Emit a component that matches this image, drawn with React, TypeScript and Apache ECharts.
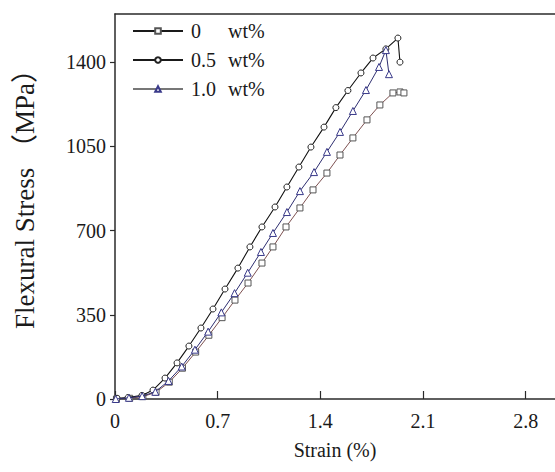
import React, { useEffect, useRef } from "react";
import * as echarts from "echarts";

const seriesNames = ["0", "0.5", "1.0"];
const unitLabel = "wt%";

const strain0: number[] = [0.01, 0.1, 0.19, 0.28, 0.37, 0.46, 0.55, 0.64, 0.73, 0.818, 0.907, 1.002, 1.077, 1.166, 1.261, 1.35, 1.445, 1.534, 1.622, 1.718, 1.806, 1.895, 1.943, 1.97];
const stress0: number[] = [0, 3, 10, 28, 70, 128, 195, 265, 338, 411, 482, 565, 632, 715, 794, 869, 939, 1014, 1085, 1160, 1222, 1272, 1276, 1272];

const strain05: number[] = [0.014, 0.089, 0.184, 0.259, 0.341, 0.423, 0.504, 0.586, 0.668, 0.75, 0.838, 0.92, 1.002, 1.091, 1.172, 1.254, 1.336, 1.425, 1.506, 1.588, 1.677, 1.759, 1.847, 1.929, 1.943];
const stress05: number[] = [3, 6, 15, 37, 87, 150, 220, 295, 374, 457, 544, 632, 715, 798, 881, 964, 1047, 1130, 1211, 1282, 1355, 1417, 1455, 1500, 1400];

const strain10: number[] = [0.005, 0.095, 0.185, 0.275, 0.365, 0.455, 0.545, 0.635, 0.725, 0.815, 0.905, 0.995, 1.077, 1.172, 1.261, 1.357, 1.445, 1.534, 1.622, 1.711, 1.8, 1.847, 1.868];
const stress10: number[] = [0, 5, 12, 30, 75, 135, 205, 280, 360, 440, 525, 611, 690, 777, 864, 943, 1027, 1110, 1197, 1284, 1380, 1450, 1350];

const xTicks: number[] = [0, 0.7, 1.4, 2.1, 2.8];
const yTicks: number[] = [0, 350, 700, 1050, 1400];

const FONT = "'Liberation Serif', 'Times New Roman', 'Noto Sans CJK SC', serif";

function zip(xs: number[], ys: number[]) {
  return xs.map((x, i) => [x, ys[i]]);
}

export default function App() {
  const ref = useRef<HTMLDivElement>(null);
  useEffect(() => {
    if (!ref.current) return;
    const chart = echarts.init(ref.current, null, { renderer: "svg" });
    const axisColor = "#2a2a2a";
    chart.setOption({
      animation: false,
      backgroundColor: "#ffffff",
      grid: { left: 115, right: 0, top: 14, bottom: 73 },
      legend: {
        orient: "vertical",
        left: 127,
        top: 16,
        itemWidth: 50,
        itemHeight: 7,
        itemGap: 9,
        data: [
          { name: seriesNames[0], lineStyle: { color: "#1a1a1a" } },
          { name: seriesNames[1], lineStyle: { color: "#1a1a1a" } },
          { name: seriesNames[2], lineStyle: { color: "#777777" } },
        ],
        formatter: (name: string) => `{a|${name}}{b|${unitLabel}}`,
        textStyle: {
          fontFamily: FONT,
          fontSize: 20,
          color: "#1a1a1a",
          lineHeight: 20,
          rich: {
            a: { width: 37, fontFamily: FONT, fontSize: 20, color: "#1a1a1a", padding: [0, 0, 0, 3] },
            b: { fontFamily: FONT, fontSize: 20, color: "#1a1a1a" },
          },
        },
      },
      xAxis: [
        {
          type: "value",
          min: 0,
          max: 3.0,
          interval: 0.7,
          name: "Strain (%)",
          nameLocation: "middle",
          nameGap: 41,
          nameTextStyle: { fontFamily: FONT, fontSize: 20, color: "#1a1a1a" },
          axisLine: { show: true, lineStyle: { color: axisColor, width: 1.5 } },
          axisTick: { show: true, inside: true, length: 8, customValues: xTicks, lineStyle: { color: axisColor, width: 1.2 } },
          axisLabel: { customValues: xTicks, fontFamily: FONT, fontSize: 20, color: "#1a1a1a", margin: 12, formatter: (v: number) => String(v) },
          splitLine: { show: false },
        },
        {
          type: "value",
          position: "top",
          min: 0,
          max: 3.0,
          axisLine: { show: true, lineStyle: { color: axisColor, width: 1.5 } },
          axisTick: { show: false },
          axisLabel: { show: false },
          splitLine: { show: false },
        },
      ],
      yAxis: {
        type: "value",
        min: 0,
        max: 1600,
        interval: 350,
        name: "Flexural Stress （MPa）",
        nameLocation: "middle",
        nameGap: 77,
        nameTextStyle: { fontFamily: FONT, fontSize: 27, color: "#1a1a1a", padding: [0, 0, 0, 28] },
        axisLine: { show: true, lineStyle: { color: axisColor, width: 1.5 } },
        axisTick: { show: true, inside: false, length: 5, customValues: yTicks, lineStyle: { color: axisColor, width: 1.2 } },
        axisLabel: { customValues: yTicks, fontFamily: FONT, fontSize: 20, color: "#1a1a1a", margin: 9, formatter: (v: number) => String(v) },
        splitLine: { show: false },
      },
      series: [
        {
          name: seriesNames[0],
          type: "line",
          data: zip(strain0, stress0),
          symbol: "rect",
          symbolSize: 6,
          lineStyle: { color: "#7d5050", width: 1 },
          itemStyle: { color: "#ffffff", borderColor: "#555555", borderWidth: 1 },
          z: 2,
        },
        {
          name: seriesNames[1],
          type: "line",
          data: zip(strain05, stress05),
          symbol: "circle",
          symbolSize: 6,
          lineStyle: { color: "#111111", width: 1.1 },
          itemStyle: { color: "#ffffff", borderColor: "#222222", borderWidth: 1 },
          z: 3,
        },
        {
          name: seriesNames[2],
          type: "line",
          data: zip(strain10, stress10),
          symbol: "triangle",
          symbolSize: 7,
          lineStyle: { color: "#2e2e70", width: 1 },
          itemStyle: { color: "#ffffff", borderColor: "#3a3a8a", borderWidth: 1 },
          z: 4,
        },
      ],
    });
    return () => chart.dispose();
  }, []);
  return (
    <div
      ref={ref}
      style={{ position: "absolute", left: 0, top: 0, width: 555, height: 472, background: "#fff" }}
    />
  );
}
